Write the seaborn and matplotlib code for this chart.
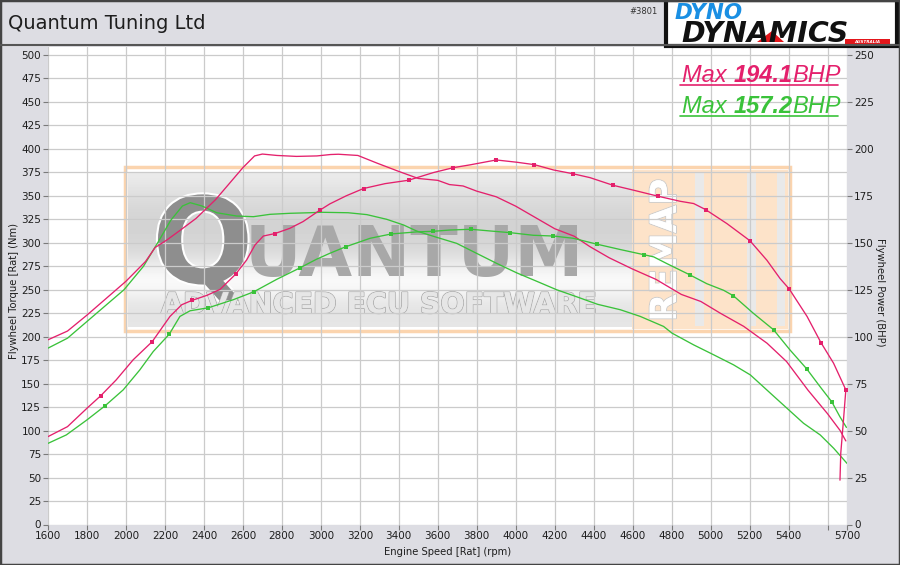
import matplotlib

matplotlib.use("Agg")

import matplotlib.patheffects as pe
import matplotlib.pyplot as plt
import numpy as np
import seaborn as sns
from matplotlib.lines import Line2D
from matplotlib.patches import Polygon, Rectangle

# --- data -------------------------------------------------------------------
remap_torque_rpm = [1600, 1700, 1800, 1900, 2000, 2100, 2150, 2210, 2280, 2360,
                    2460, 2530, 2600, 2660, 2700, 2775, 2875, 2980, 3050, 3090,
                    3190, 3290, 3400, 3500, 3600, 3660, 3730, 3800, 3900, 4000,
                    4100, 4200, 4300, 4380, 4480, 4600, 4720, 4850, 4950, 5050,
                    5170, 5290, 5390, 5500, 5600, 5665, 5694]
remap_torque_nm = [196.7, 206, 223, 241, 259, 280, 295, 303, 313.6, 326,
                   346, 363, 380, 392.5, 394.5, 393, 392, 392.5, 394, 394.3,
                   393, 384.7, 376, 368.5, 366.5, 362, 360.5, 355, 349, 339,
                   327, 315, 307, 296, 284, 272, 261, 245, 237.5, 225,
                   211, 193, 173.5, 143, 118, 100, 89]

remap_power_rpm = [1600, 1700, 1800, 1871, 1950, 2037, 2135, 2226, 2286, 2338,
                   2415, 2483, 2563, 2619, 2662, 2705, 2764, 2841, 2909, 2997,
                   3046, 3130, 3219, 3330, 3450, 3578, 3680, 3766, 3900, 4005,
                   4096, 4193, 4292, 4381, 4500, 4605, 4730, 4844, 4913, 4974,
                   5084, 5202, 5289, 5357, 5403, 5495, 5566, 5631, 5694, 5682,
                   5668, 5664]
remap_power_bhp = [46.8, 52.1, 61.9, 68.6, 77, 87.7, 97.4, 110.8, 117, 119.3,
                   122, 125.2, 133.3, 140.8, 148.8, 153.6, 154.9, 157.7, 161.3, 167.5,
                   170.7, 175, 178.9, 181.5, 183.3, 187.4, 190, 191.5, 194.1, 192.9,
                   191.6, 188.8, 186.8, 184.7, 180.6, 178, 174.8, 172.1, 170.9, 167.7,
                   160.2, 151.1, 140.7, 130.9, 125.5, 110.8, 96.9, 85.9, 71.7, 55.7,
                   37.9, 23.6]
remap_dot_rpm = [1871, 2135, 2338, 2563, 2764, 2997, 3219, 3450, 3680, 3900,
                 4096, 4292, 4500, 4730, 4974, 5202, 5403, 5566, 5694]

stock_torque_rpm = [1600, 1700, 1800, 1900, 1990, 2090, 2160, 2230, 2290, 2330,
                    2390, 2466, 2568, 2654, 2739, 2841, 2943, 3000, 3140, 3236,
                    3338, 3424, 3492, 3595, 3697, 3800, 3903, 4005, 4108, 4210,
                    4313, 4420, 4537, 4639, 4759, 4802, 4913, 5016, 5118, 5204,
                    5307, 5392, 5477, 5563, 5632, 5700]
stock_torque_nm = [187.8, 198.4, 216.2, 234, 250, 275, 299, 324, 339.2, 342.7,
                   339.2, 332, 328.5, 327.8, 330.3, 331.4, 332, 332.5, 332, 330,
                   325, 319, 312.5, 305.8, 299.4, 288.7, 278, 268, 259, 250,
                   242.5, 234.5, 228.7, 221.6, 210.9, 203.8, 191.3, 180.7, 170, 159.3,
                   139.8, 123.8, 107.8, 95.3, 81.1, 65.1]

stock_power_rpm = [1600, 1694, 1800, 1894, 1986, 2071, 2140, 2222, 2277, 2329,
                   2423, 2551, 2656, 2773, 2892, 2977, 3046, 3128, 3253, 3361,
                   3492, 3574, 3663, 3769, 3868, 3971, 4090, 4193, 4296, 4415,
                   4537, 4656, 4708, 4776, 4892, 4981, 5067, 5117, 5219, 5323,
                   5407, 5493, 5561, 5622, 5663, 5697]
stock_power_bhp = [43.2, 47.7, 55.7, 63.3, 71.7, 82.3, 92.1, 101.3, 110.8, 113.8,
                   115.4, 119.7, 123.9, 130.5, 136.6, 141.2, 144.4, 147.9, 152.4, 154.7,
                   155.8, 156.1, 156.8, 157.2, 156.3, 155.4, 154, 153.6, 152.4, 149.3,
                   146.4, 143.7, 142.5, 138.9, 133, 128.2, 124.7, 121.8, 112.5, 103.7,
                   93, 82.9, 73.5, 65.3, 57.5, 51.7]
stock_dot_rpm = [1894, 2222, 2423, 2656, 2892, 3128, 3361, 3574, 3769, 3971,
                 4193, 4415, 4656, 4892, 5117, 5323, 5493, 5622]

rpm_ticks = [1600, 1800, 2000, 2200, 2400, 2600, 2800, 3000, 3200, 3400, 3600,
             3800, 4000, 4200, 4400, 4600, 4800, 5000, 5200, 5400, 5600, 5700]
rpm_tick_labels = ["1600", "1800", "2000", "2200", "2400", "2600", "2800", "3000",
                   "3200", "3400", "3600", "3800", "4000", "4200", "4400", "4600",
                   "4800", "5000", "5200", "5400", "", "5700"]
torque_ticks = list(range(0, 501, 25))
power_ticks = list(range(0, 251, 25))

# --- styling ----------------------------------------------------------------
REMAP_COLOR = "#e4206c"
STOCK_COLOR = "#3ac23a"
BG = "#dddde3"
GRID = "#cbcbcb"
TEXT = "#1e1e1e"
LW = 0.95

FIG_W, FIG_H = 900, 565
AX_L, AX_R, AX_T, AX_B = 48, 847, 47, 524.5


def fig_xy(px, py):
    return px / FIG_W, 1 - py / FIG_H


def ax_xy(px, py):
    return (px - AX_L) / (AX_R - AX_L), (AX_B - py) / (AX_B - AX_T)


def ax_box(x0, y0, x1, y1):
    left, top = ax_xy(x0, y0)
    right, bottom = ax_xy(x1, y1)
    return (left, bottom), right - left, top - bottom


def draw_watermark(ax):
    tr = ax.transAxes
    # soft grey band behind the logo
    shade = np.array([0.92, 0.89, 0.86, 0.84, 0.83, 0.83, 0.84, 0.87,
                      0.93, 0.98, 0.97, 0.92, 0.89, 0.90])
    (x0, y0), w, h = ax_box(128, 172, 632, 327)
    ax.imshow(shade[:, None], cmap="gray", vmin=0, vmax=1, aspect="auto",
              extent=(x0, x0 + w, y0, y0 + h), transform=tr,
              interpolation="bicubic", zorder=0.1)

    xy, w, h = ax_box(632, 170, 788, 329)
    ax.add_patch(Rectangle(xy, w, h, transform=tr, facecolor="#fde3c9",
                           edgecolor="none", zorder=0.1))
    for sx0, sx1 in [(695, 704), (747, 756), (777, 785)]:
        xy, w, h = ax_box(sx0, 173, sx1, 326)
        ax.add_patch(Rectangle(xy, w, h, transform=tr, facecolor="#e9e9e9",
                               edgecolor="none", zorder=0.12))
    xy, w, h = ax_box(125, 167, 790, 331)
    ax.add_patch(Rectangle(xy, w, h, transform=tr, fill=False,
                           edgecolor="#fbd4ae", lw=2.5, zorder=0.15))

    ax.text(*ax_xy(152, 283), "Q", transform=tr, fontsize=86,
            fontweight="bold", color="#8e8e8e", va="baseline", ha="left",
            zorder=0.2,
            path_effects=[pe.withStroke(linewidth=3, foreground="white")])
    ax.text(*ax_xy(245, 276), "UANTUM", transform=tr, fontsize=50,
            fontweight="bold", color="#a8a8a8", va="baseline", ha="left",
            zorder=0.2)
    ax.text(*ax_xy(161, 313), "ADVANCED ECU SOFTWARE", transform=tr,
            fontsize=20.5, fontweight="bold", color="#e6e6e6", va="baseline",
            ha="left", zorder=0.2,
            path_effects=[pe.withStroke(linewidth=1.2, foreground="#ababab"),
                          pe.Normal()])
    ax.text(*ax_xy(683, 250), "REMAP", transform=tr, fontsize=26,
            fontweight="bold", color="white", rotation=90, va="center",
            ha="right", zorder=0.2,
            path_effects=[pe.withStroke(linewidth=1.4, foreground="#cccccc"),
                          pe.Normal()])


sns.set_theme(style="whitegrid")
plt.rcParams["font.family"] = ["DejaVu Sans"]

fig = plt.figure(figsize=(FIG_W / 100, FIG_H / 100), dpi=100, facecolor=BG)
ax = fig.add_axes([AX_L / FIG_W, 1 - AX_B / FIG_H,
                   (AX_R - AX_L) / FIG_W, (AX_B - AX_T) / FIG_H])
ax.set_facecolor("white")
ax2 = ax.twinx()

draw_watermark(ax)

# torque on the left axis, power on the right one
sns.lineplot(x=stock_torque_rpm, y=stock_torque_nm, ax=ax, color=STOCK_COLOR,
             lw=LW, sort=False, estimator=None, zorder=3)
sns.lineplot(x=remap_torque_rpm, y=remap_torque_nm, ax=ax, color=REMAP_COLOR,
             lw=LW, sort=False, estimator=None, zorder=3)

sns.lineplot(x=stock_power_rpm, y=stock_power_bhp, ax=ax2, color=STOCK_COLOR,
             lw=LW, sort=False, estimator=None, zorder=3)
sns.lineplot(x=remap_power_rpm, y=remap_power_bhp, ax=ax2, color=REMAP_COLOR,
             lw=LW, sort=False, estimator=None, zorder=3)

for rpm, bhp, dots, color in [
    (stock_power_rpm, stock_power_bhp, stock_dot_rpm, STOCK_COLOR),
    (remap_power_rpm, remap_power_bhp, remap_dot_rpm, REMAP_COLOR),
]:
    mask = np.isin(rpm, dots)
    sns.scatterplot(x=np.asarray(rpm)[mask], y=np.asarray(bhp)[mask], ax=ax2,
                    color=color, s=10, marker="s", linewidth=0, zorder=4)

ax.set_xlim(1600, 5700)
ax.set_ylim(0, 508.5)
ax2.set_ylim(0, 254.25)

ax.set_xticks(rpm_ticks, rpm_tick_labels)
ax.set_yticks(torque_ticks)
ax2.set_yticks(power_ticks)

ax.set_axisbelow(True)
ax.grid(True, color=GRID, lw=0.9)
ax2.grid(False)
for a in (ax, ax2):
    for spine in a.spines.values():
        spine.set_visible(False)
    a.tick_params(length=3.5, width=0.8, color="#7a7a7a", labelsize=7.5,
                  labelcolor=TEXT, pad=1.5)
ax.tick_params(left=True, bottom=True)
ax2.tick_params(right=True)

ax.set_xlabel("Engine Speed [Rat] (rpm)", fontsize=7.2, color=TEXT)
ax.xaxis.set_label_coords(0.5, -0.047)
ax.set_ylabel("Flywheel Torque [Rat] (Nm)", fontsize=7.2, color=TEXT)
ax.yaxis.set_label_coords(-0.036, 0.49)
ax2.set_ylabel("Flywheel Power (BHP)", fontsize=7.2, color=TEXT,
               rotation=270, va="bottom")
ax2.yaxis.set_label_coords(1.035, 0.487)

# peak power captions, underlined
for peak, color, base_y in [(max(remap_power_bhp), REMAP_COLOR, 82),
                            (max(stock_power_bhp), STOCK_COLOR, 113)]:
    t1 = fig.text(*fig_xy(682, base_y), "Max ", fontsize=17, style="italic",
                  family="Liberation Sans", color=color, va="baseline")
    t2 = ax.annotate(f"{peak:.1f}", xy=(1, 0), xycoords=t1, va="bottom",
                     fontsize=17, style="italic", fontweight="bold",
                     family="Liberation Sans", color=color)
    ax.annotate("BHP", xy=(1, 0), xycoords=t2, va="bottom", fontsize=17,
                style="italic", family="Liberation Sans", color=color)
    ux0, uy = fig_xy(680, base_y + 3)
    ux1, _ = fig_xy(838, base_y + 3)
    fig.add_artist(Line2D([ux0, ux1], [uy, uy], color=color, lw=1.2,
                          transform=fig.transFigure))

# header: company name, run number and the dyno maker's logo
fig.text(*fig_xy(8, 29), "Quantum Tuning Ltd", fontsize=14, color=TEXT,
         va="baseline")
fig.text(*fig_xy(658, 14), "#3801", fontsize=6, color="#333333",
         ha="right", va="baseline")
_, sy = fig_xy(0, 45)
fig.add_artist(Line2D([0, 1], [sy, sy], color="#555555", lw=1.5,
                      transform=fig.transFigure))

lx, ly = fig_xy(666, 46)
fig.add_artist(Rectangle((lx, ly), 231 / FIG_W, 46 / FIG_H, facecolor="white",
                         edgecolor="#111111", lw=3, transform=fig.transFigure))
fig.text(*fig_xy(675, 19), "DYNO", fontsize=15.5, fontweight="bold",
         style="italic", color="#1a8fe3", va="baseline")
fig.text(*fig_xy(681, 41.5), "DYNAMICS", fontsize=20.5, fontweight="bold",
         style="italic", color="#111111", va="baseline")
fig.add_artist(Polygon([fig_xy(757, 42), fig_xy(772, 31), fig_xy(784, 42)],
                       closed=True, facecolor="#e3161b", edgecolor="none",
                       transform=fig.transFigure))
bx, by = fig_xy(845, 44)
fig.add_artist(Rectangle((bx, by), 45 / FIG_W, 4.5 / FIG_H, facecolor="#e3161b",
                         edgecolor="none", transform=fig.transFigure))
fig.text(*fig_xy(867, 41.8), "AUSTRALIA", fontsize=3, fontweight="bold",
         style="italic", color="white", ha="center", va="center")

fig.add_artist(Rectangle((0, 0), 1, 1, fill=False, edgecolor="#444444", lw=2.5,
                         transform=fig.transFigure))

fig.savefig("out.png", dpi=100, facecolor=fig.get_facecolor())
